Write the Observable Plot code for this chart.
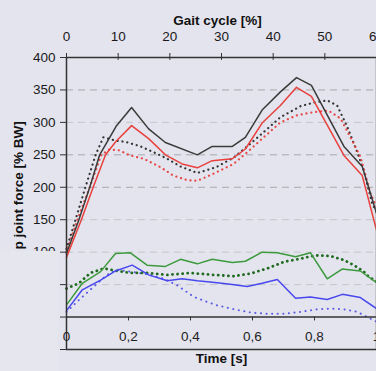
<!DOCTYPE html>
<html><head><meta charset="utf-8">
<script src="https://cdn.jsdelivr.net/npm/d3@7"></script>
<script src="https://cdn.jsdelivr.net/npm/@observablehq/plot@0.6"></script>
<style>html,body{margin:0;padding:0;background:#e4e4ee;} svg{display:block;}</style>
</head><body><div id="chart"></div>
<script>
// Tick labels / axes
const timeTicks = [0, 0.2, 0.4, 0.6, 0.8, 1.0];
const gaitTicks = [0, 10, 20, 30, 40, 50, 60];
const gaitAtOneSecond = 60; // 60 % of gait cycle falls at 1.0 s
const forceTicks = [-50, 0, 50, 100, 150, 200, 250, 300, 350, 400];
const gridDark = [350, 250, 200];
const gridLight = [300, 150, 100, 50];
const titleTop = "Gait cycle [%]";
const titleBottom = "Time [s]";
const titleLeft = "p joint force [% BW]";

// Series (time [s], force [% BW])
const blackSolidT = [0, 0.04, 0.075, 0.107, 0.16, 0.21, 0.265, 0.319, 0.422, 0.47, 0.535, 0.577, 0.631, 0.69, 0.742, 0.79, 0.895, 0.954, 1.0];
const blackSolidV = [98, 150, 200, 250, 294, 323, 290, 269, 250, 263, 263, 277, 319, 347, 369, 357, 263, 232, 160];
const redSolidT = [0, 0.048, 0.086, 0.126, 0.16, 0.21, 0.265, 0.319, 0.373, 0.422, 0.47, 0.535, 0.577, 0.631, 0.69, 0.742, 0.79, 0.895, 0.954, 1.0];
const redSolidV = [92, 150, 200, 250, 271, 295, 275, 250, 236, 230, 241, 244, 259, 299, 326, 354, 340, 249, 218, 134];
const blackDotT = [0, 0.029, 0.061, 0.094, 0.119, 0.158, 0.19, 0.239, 0.281, 0.325, 0.368, 0.422, 0.47, 0.487, 0.54, 0.583, 0.636, 0.69, 0.755, 0.803, 0.841, 0.873, 0.906, 0.938, 0.959, 0.986, 1.0];
const blackDotV = [105, 150, 200, 250, 277, 272, 270, 263, 254, 244, 232, 222, 229, 232, 246, 263, 285, 308, 325, 331, 334, 326, 293, 254, 226, 175, 162];
const redDotT = [0, 0.035, 0.075, 0.112, 0.137, 0.169, 0.206, 0.249, 0.303, 0.345, 0.389, 0.422, 0.47, 0.539, 0.583, 0.636, 0.69, 0.744, 0.798, 0.846, 0.884, 0.916, 0.948, 0.965, 0.981, 1.0];
const redDotV = [100, 150, 200, 250, 258, 257, 249, 244, 231, 218, 211, 210, 220, 236, 254, 277, 300, 311, 316, 318, 306, 277, 247, 218, 190, 170];
const greenSolidT = [0.002, 0.051, 0.11, 0.158, 0.206, 0.26, 0.319, 0.368, 0.422, 0.47, 0.535, 0.577, 0.631, 0.68, 0.739, 0.787, 0.841, 0.889, 0.948, 1.0];
const greenSolidV = [20, 52, 70, 98, 99, 80, 78, 89, 82, 89, 84, 86, 100, 99, 93, 99, 59, 74, 71, 53];
const greenDotT = [0, 0.04, 0.077, 0.12, 0.163, 0.206, 0.26, 0.325, 0.4, 0.475, 0.54, 0.594, 0.648, 0.701, 0.755, 0.803, 0.852, 0.894, 0.927, 0.959, 0.975, 1.0];
const greenDotV = [44, 52, 68, 75, 71, 68, 68, 65, 68, 65, 63, 67, 75, 85, 90, 95, 94, 88, 80, 70, 62, 55];
const blueSolidT = [0.002, 0.051, 0.11, 0.158, 0.212, 0.265, 0.325, 0.373, 0.422, 0.486, 0.535, 0.583, 0.631, 0.68, 0.739, 0.787, 0.841, 0.89, 0.948, 1.0];
const blueSolidV = [11, 42, 57, 71, 80, 65, 56, 59, 56, 53, 50, 47, 52, 58, 29, 31, 27, 35, 30, 13];
const blueDotT = [0, 0.035, 0.088, 0.131, 0.163, 0.206, 0.26, 0.314, 0.357, 0.411, 0.45, 0.486, 0.54, 0.594, 0.648, 0.702, 0.755, 0.809, 0.852, 0.894, 0.938, 0.97, 1.0];
const blueDotV = [8, 24, 47, 65, 73, 70, 66, 59, 49, 31, 24, 18, 12, 7, 5, 5, 8, 12, 13, 12, 8, 0, -7];

const rows = (T, V) => T.map((t, i) => ({t, v: V[i]}));
const fmtT = d => d === 0 ? "0" : d === 1 ? "1" : String(d).replace(".", ",");
const gaitPos = gaitTicks.map(g => g / gaitAtOneSecond);
const font = "'Liberation Sans', Arial, sans-serif";

const solid = (T, V, c) => Plot.line(rows(T, V), {x: "t", y: "v", stroke: c, strokeWidth: 1.5});
const dotted = (T, V, c, w, dash, op) => Plot.line(rows(T, V), {x: "t", y: "v", stroke: c, strokeWidth: w, strokeDasharray: dash, strokeLinecap: "round", strokeOpacity: op});

const chart = Plot.plot({
  width: 376, height: 371,
  marginTop: 57, marginBottom: 22, marginLeft: 66, marginRight: 0,
  x: {domain: [0, 1]},
  y: {domain: [-50, 400]},
  style: {background: "#e4e4ee", fontFamily: font, fontSize: "13.5px", color: "#1a1a1a", overflow: "visible"},
  marks: [
    Plot.ruleY(gridLight, {stroke: "#c4c4ca", strokeDasharray: "7,5"}),
    Plot.ruleY(gridDark, {stroke: "#a8a8ae", strokeDasharray: "7,5"}),
    dotted(blueDotT, blueDotV, "#4a4ae6", 2, "0.1,5.5", 0.9),
    dotted(greenDotT, greenDotV, "#1f6b1f", 2.8, "0.1,5", 1),
    solid(blueSolidT, blueSolidV, "#4848ee"),
    solid(greenSolidT, greenSolidV, "#3c9a3c"),
    dotted(blackDotT, blackDotV, "#2a2a2a", 2.2, "0.1,4.8", 0.95),
    dotted(redDotT, redDotV, "#e8403c", 2.2, "0.1,4.8", 0.95),
    solid(blackSolidT, blackSolidV, "#3a3a3a"),
    solid(redSolidT, redSolidV, "#e8403c"),
    Plot.axisY({ticks: forceTicks, tickSize: 6, tickPadding: 5, tickFormat: d => d >= 100 ? d : "", stroke: "#333", label: null, fontSize: 13.5}),
    Plot.axisX({anchor: "top", ticks: gaitPos, tickFormat: d => Math.round(d * gaitAtOneSecond), tickSize: 5, tickPadding: 12, stroke: "#333", label: null, fontSize: 13.5}),
    Plot.ruleX(gaitPos, {y1: 400, y2: 395.5, stroke: "#333"}),
    Plot.ruleX(timeTicks, {y1: 0, y2: -6, stroke: "#333"}),
    Plot.ruleY([400, 0, -50], {stroke: "#333", strokeWidth: 1.5}),
    Plot.ruleX([0], {stroke: "#333", strokeWidth: 1.5}),
    Plot.ruleX([1], {stroke: "#666", strokeWidth: 1.5}),
    Plot.text(timeTicks, {x: d => d, y: -31, text: fmtT, fill: "#222", fontSize: 13.5}),
    Plot.text([titleTop], {frameAnchor: "top", dy: -42, dx: -4, fontWeight: "bold", fontSize: 13.5, fill: "#111"}),
    Plot.text([titleBottom], {frameAnchor: "bottom", dy: 13, fontWeight: "bold", fontSize: 13.5, fill: "#111"}),
    Plot.text([titleLeft], {frameAnchor: "bottom-left", dx: -44, dy: -100, rotate: -90, textAnchor: "start", fontWeight: "bold", fontSize: 13.5, fill: "#111"})
  ]
});
// light panel covering the lower part of the left label column
d3.select(chart).append("rect").attr("x", 0).attr("y", 251).attr("width", 57).attr("height", 120).attr("fill", "#e6e6ef");
document.getElementById("chart").appendChild(chart);
</script>
</body></html>
